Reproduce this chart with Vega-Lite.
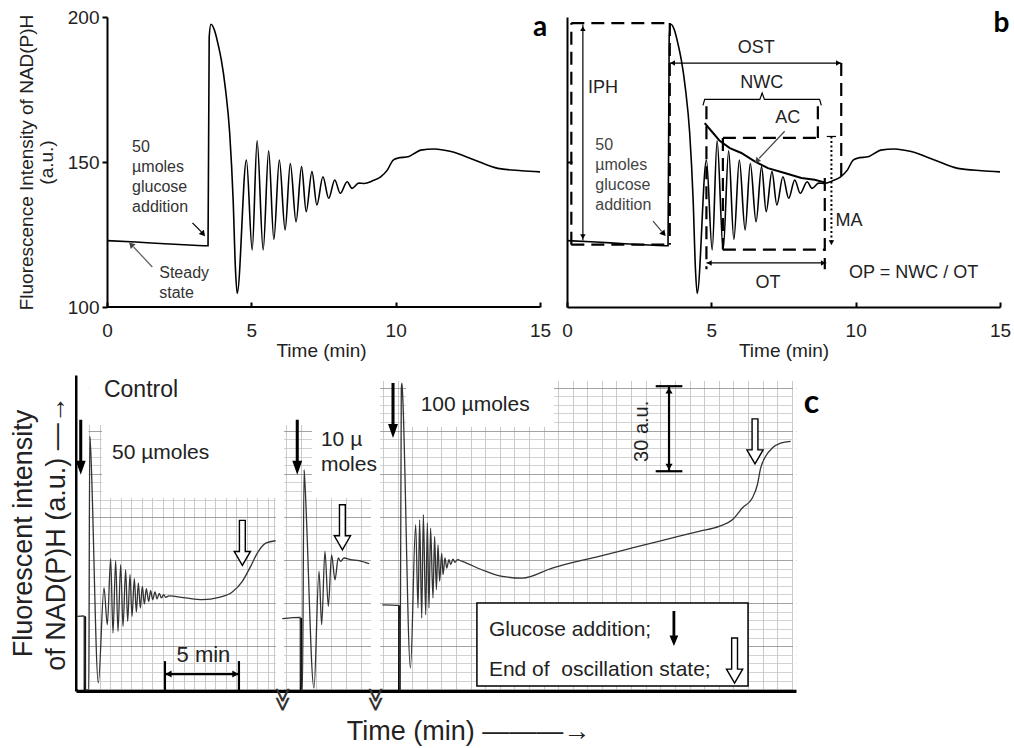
{
"$schema": "https://vega.github.io/schema/vega-lite/v6.json",
"padding": {"left": 9, "top": 8, "right": 5, "bottom": 5},
"config": {
  "view": {"stroke": null},
  "font": "Liberation Sans",
  "axis": {"labelFont": "Liberation Sans", "titleFont": "Liberation Sans", "labelColor": "#222", "titleColor": "#222", "titleFontWeight": "normal", "domainColor": "black", "tickColor": "black", "grid": false},
  "text": {"font": "Liberation Sans"}
},
"datasets": {
  "curve": [{"x":0,"y":122.9},{"x":1,"y":122.4},{"x":2,"y":121.8},{"x":3,"y":121.3},{"x":3.5,"y":121.1},{"x":3.54,"y":193},{"x":3.6,"y":197.5},{"x":3.72,"y":195.5},{"x":3.85,"y":190.5},{"x":3.96,"y":185.2},{"x":4.1,"y":175.5},{"x":4.25,"y":160},{"x":4.37,"y":136.9},{"x":4.45,"y":113},{"x":4.51,"y":104.7},{"x":4.83,"y":150.7},{"x":5.03,"y":119.7},{"x":5.2,"y":157.3},{"x":5.41,"y":119.7},{"x":5.6,"y":153.9},{"x":5.78,"y":123.3},{"x":5.97,"y":150.7},{"x":6.17,"y":126.6},{"x":6.35,"y":149.5},{"x":6.55,"y":129.4},{"x":6.74,"y":148.4},{"x":6.9,"y":132.9},{"x":7.1,"y":146.7},{"x":7.27,"y":135.2},{"x":7.48,"y":144.9},{"x":7.68,"y":137.5},{"x":7.89,"y":143.8},{"x":8.08,"y":139.2},{"x":8.32,"y":143.2},{"x":8.49,"y":140.9},{"x":8.72,"y":142.7},{"x":8.9,"y":142.6},{"x":9.2,"y":143.5},{"x":9.48,"y":144.9},{"x":9.71,"y":147.2},{"x":9.9,"y":150.5},{"x":10.06,"y":151.3},{"x":10.46,"y":151.9},{"x":10.7,"y":153.3},{"x":10.87,"y":154.1},{"x":11.34,"y":154.5},{"x":11.92,"y":153.6},{"x":12.73,"y":150.7},{"x":13.54,"y":147.8},{"x":14.36,"y":147.0},{"x":15,"y":146.6}],
  "cc": [
    {"s":"1","x":0.09,"y":26.0},{"s":"1","x":0.5,"y":26.1},{"s":"1","x":0.58,"y":25.9},{"s":"1","x":0.61,"y":0.4},{"s":"1","x":0.86,"y":0.4},{"s":"1","x":0.93,"y":88.6},{"s":"1","x":0.97,"y":86},{"s":"1","x":1.51,"y":2.8},{"s":"1","x":1.892,"y":35.85},{"s":"1","x":2.117,"y":23.08},{"s":"1","x":2.342,"y":46.06},{"s":"1","x":2.5,"y":20.19},{"s":"1","x":2.68,"y":45.36},{"s":"1","x":2.838,"y":20.77},{"s":"1","x":3.018,"y":43.97},{"s":"1","x":3.176,"y":22.5},{"s":"1","x":3.356,"y":42.23},{"s":"1","x":3.491,"y":24.24},{"s":"1","x":3.649,"y":40.49},{"s":"1","x":3.784,"y":25.98},{"s":"1","x":3.941,"y":39.1},{"s":"1","x":4.077,"y":27.5},{"s":"1","x":4.212,"y":37.6},{"s":"1","x":4.347,"y":28.9},{"s":"1","x":4.482,"y":36.4},{"s":"1","x":4.617,"y":30.3},{"s":"1","x":4.752,"y":35.6},{"s":"1","x":4.91,"y":31.2},{"s":"1","x":5.045,"y":34.9},{"s":"1","x":5.18,"y":31.8},{"s":"1","x":5.338,"y":34.5},{"s":"1","x":5.473,"y":32.1},{"s":"1","x":5.63,"y":34.0},{"s":"1","x":5.766,"y":32.4},{"s":"1","x":5.923,"y":33.5},{"s":"1","x":6.059,"y":32.6},{"s":"1","x":6.284,"y":33.1},{"s":"1","x":7.41,"y":32.4},{"s":"1","x":8.536,"y":31.8},{"s":"1","x":9.662,"y":32.6},{"s":"1","x":10.56,"y":34.5},{"s":"1","x":11.24,"y":38.2},{"s":"1","x":11.8,"y":43.4},{"s":"1","x":12.25,"y":48.0},{"s":"1","x":12.82,"y":51.5},{"s":"1","x":13.49,"y":52.3},
    {"s":"2","x":13.94,"y":25.2},{"s":"2","x":15.17,"y":25.6},{"s":"2","x":15.21,"y":0.4},{"s":"2","x":15.3,"y":0.4},{"s":"2","x":15.41,"y":77.0},{"s":"2","x":15.45,"y":74},{"s":"2","x":16.08,"y":1.0},{"s":"2","x":16.42,"y":41.7},{"s":"2","x":16.6,"y":23.1},{"s":"2","x":16.82,"y":48.6},{"s":"2","x":17.05,"y":29.5},{"s":"2","x":17.27,"y":47.4},{"s":"2","x":17.5,"y":38.7},{"s":"2","x":17.72,"y":46.3},{"s":"2","x":17.88,"y":45.1},{"s":"2","x":18.11,"y":46.3},{"s":"2","x":18.56,"y":45.7},{"s":"2","x":19.12,"y":45.4},{"s":"2","x":19.8,"y":44.3},
    {"s":"3","x":20.7,"y":30.0},{"s":"3","x":21.82,"y":29.8},{"s":"3","x":21.85,"y":0.4},{"s":"3","x":21.9,"y":0.4},{"s":"3","x":21.98,"y":105},{"s":"3","x":22.02,"y":107.2},{"s":"3","x":22.07,"y":103},{"s":"3","x":22.6,"y":8.0},{"s":"3","x":22.95,"y":57.9},{"s":"3","x":23.11,"y":28.9},{"s":"3","x":23.22,"y":59.6},{"s":"3","x":23.36,"y":25.4},{"s":"3","x":23.47,"y":61.4},{"s":"3","x":23.63,"y":26.6},{"s":"3","x":23.74,"y":58.5},{"s":"3","x":23.85,"y":28.9},{"s":"3","x":23.96,"y":56.7},{"s":"3","x":24.12,"y":32.4},{"s":"3","x":24.23,"y":53.8},{"s":"3","x":24.35,"y":35.3},{"s":"3","x":24.46,"y":50.9},{"s":"3","x":24.57,"y":38.2},{"s":"3","x":24.71,"y":48.0},{"s":"3","x":24.8,"y":40.5},{"s":"3","x":24.93,"y":46.3},{"s":"3","x":25.05,"y":42.8},{"s":"3","x":25.2,"y":45.7},{"s":"3","x":25.32,"y":44.0},{"s":"3","x":25.47,"y":45.9},{"s":"3","x":25.61,"y":44.8},{"s":"3","x":25.77,"y":45.7},{"s":"3","x":26.1,"y":45.1},{"s":"3","x":27.68,"y":41.7},{"s":"3","x":28.8,"y":39.9},{"s":"3","x":30.16,"y":39.3},{"s":"3","x":32.18,"y":42.8},{"s":"3","x":35.34,"y":46.9},{"s":"3","x":37.59,"y":49.8},{"s":"3","x":39.84,"y":52.7},{"s":"3","x":42.09,"y":55.6},{"s":"3","x":43.45,"y":57.3},{"s":"3","x":44.35,"y":59.6},{"s":"3","x":45.02,"y":63.7},{"s":"3","x":45.7,"y":67.2},{"s":"3","x":46.04,"y":71.8},{"s":"3","x":46.26,"y":77.6},{"s":"3","x":46.6,"y":81.7},{"s":"3","x":47.05,"y":84.6},{"s":"3","x":47.61,"y":86.3},{"s":"3","x":48.29,"y":86.9}
  ]
},
"columns": 1,
"spacing": 15,
"concat": [
 {
  "spacing": 10,
  "hconcat": [
   {
    "width": 464, "height": 290,
    "encoding": {
      "x": {"field": "x", "type": "quantitative", "scale": {"domain": [-1.074, 15], "nice": false, "zero": false},
            "axis": {"values": [0, 5, 10, 15], "title": "Time (min)", "titleX": 245, "titleFontSize": 19, "titlePadding": 1, "labelFontSize": 19, "tickSize": -5, "labelPadding": 19, "domain": false, "tickWidth": 2, "labelFlush": false}},
      "y": {"field": "y", "type": "quantitative", "scale": {"domain": [100, 200], "nice": false, "zero": false},
            "axis": {"values": [100, 150, 200], "offset": -31, "title": ["Fluorescence Intensity of NAD(P)H", "(a.u.)"], "titleFontSize": 19, "titleLineHeight": 20, "titlePadding": 11, "labelFontSize": 19, "tickSize": 5, "labelPadding": 3, "domainWidth": 2, "tickWidth": 2}}
    },
    "layer": [
      {"data": {"values": [{"x":0,"y":100,"x2":15,"y2":100}]}, "mark": {"type": "rule", "color": "black", "strokeWidth": 2}, "encoding": {"x2": {"field": "x2"}, "y2": {"field": "y2"}}},
      {"data": {"name": "curve"}, "mark": {"type": "line", "interpolate": "monotone", "color": "black", "strokeWidth": 1.6}},
      {"data": {"values": [{"x":0.87,"y":155.3,"t":"50"},{"x":0.87,"y":148.4,"t":"µmoles"},{"x":0.87,"y":141.5,"t":"glucose"},{"x":0.87,"y":134.6,"t":"addition"},{"x":1.81,"y":111.6,"t":"Steady"},{"x":1.81,"y":104.7,"t":"state"}]},
       "mark": {"type": "text", "align": "left", "baseline": "middle", "fontSize": 16, "color": "#333"}, "encoding": {"text": {"field": "t"}}},
      {"data": {"values": [{"x":2.96,"y":129.0,"x2":3.27,"y2":125.9}]}, "mark": {"type": "rule", "color": "black", "strokeWidth": 1.3}, "encoding": {"x2": {"field": "x2"}, "y2": {"field": "y2"}}},
      {"data": {"values": [{"x":3.31,"y":125.4}]}, "mark": {"type": "point", "shape": "triangle", "angle": 140, "filled": true, "color": "black", "opacity": 1, "size": 45}},
      {"data": {"values": [{"x":1.57,"y":113.8,"x2":0.92,"y2":120.7}]}, "mark": {"type": "rule", "color": "#666", "strokeWidth": 1.3}, "encoding": {"x2": {"field": "x2"}, "y2": {"field": "y2"}}},
      {"data": {"values": [{"x":0.86,"y":121.3}]}, "mark": {"type": "point", "shape": "triangle", "angle": 316, "filled": true, "color": "#444", "opacity": 1, "size": 45}},
      {"data": {"values": [{"x":15,"y":196.2,"t":"a"}]}, "mark": {"type": "text", "font": "Lato", "fontWeight": "bold", "fontSize": 28, "baseline": "middle", "color": "black"}, "encoding": {"text": {"field": "t"}}}
    ]
   },
   {
    "width": 433, "height": 290,
    "encoding": {
      "x": {"field": "x", "type": "quantitative", "scale": {"domain": [0, 15], "nice": false, "zero": false},
            "axis": {"values": [0, 5, 10, 15], "title": "Time (min)", "titleFontSize": 19, "titlePadding": 1, "labelFontSize": 19, "tickSize": -5, "labelPadding": 19, "domainWidth": 2, "tickWidth": 2, "labelFlush": false}},
      "y": {"field": "y", "type": "quantitative", "scale": {"domain": [100, 200], "nice": false, "zero": false},
            "axis": {"values": [150], "title": null, "labels": false, "tickSize": -5, "domainWidth": 2, "tickWidth": 2}}
    },
    "layer": [
      {"data": {"name": "curve"}, "mark": {"type": "line", "interpolate": "monotone", "color": "black", "strokeWidth": 1.6}},
      {"data": {"values": [{"x":0.15,"y":197.9,"x2":3.56,"y2":197.9},{"x":3.56,"y":197.9,"x2":3.56,"y2":121.5},{"x":0.15,"y":121.5,"x2":3.56,"y2":121.5},{"x":0.15,"y":121.5,"x2":0.15,"y2":197.9},{"x":9.5,"y":184.1,"x2":9.5,"y2":143.9},{"x":4.83,"y":169.2,"x2":4.83,"y2":113},{"x":8.69,"y":169.2,"x2":8.69,"y2":158.3},{"x":5.4,"y":158.3,"x2":8.69,"y2":158.3},{"x":5.4,"y":158.3,"x2":5.4,"y2":119.8},{"x":5.4,"y":119.8,"x2":8.93,"y2":119.8},{"x":8.93,"y":144.5,"x2":8.93,"y2":113}]},
       "mark": {"type": "rule", "color": "black", "strokeWidth": 2.2, "strokeDash": [13, 7]}, "encoding": {"x2": {"field": "x2"}, "y2": {"field": "y2"}}},
      {"data": {"values": [{"x":0.55,"y":197.4,"x2":0.55,"y2":122.9},{"x":3.56,"y":184.1,"x2":9.5,"y2":184.1},{"x":4.83,"y":115.2,"x2":8.98,"y2":115.2},{"x":9.0,"y":158.8,"x2":9.32,"y2":158.8}]},
       "mark": {"type": "rule", "color": "black", "strokeWidth": 1.2}, "encoding": {"x2": {"field": "x2"}, "y2": {"field": "y2"}}},
      {"data": {"values": [{"x":9.16,"y":158.8,"x2":9.16,"y2":121.5}]},
       "mark": {"type": "rule", "color": "black", "strokeWidth": 2, "strokeDash": [2, 2.5]}, "encoding": {"x2": {"field": "x2"}, "y2": {"field": "y2"}}},
      {"data": {"values": [{"x":4.77,"y":163.4},{"x":5.06,"y":160},{"x":5.29,"y":157.3},{"x":5.64,"y":154.8},{"x":6.04,"y":153.1},{"x":6.5,"y":150.2},{"x":6.96,"y":147.9},{"x":7.54,"y":146.2},{"x":8.12,"y":144.5},{"x":8.58,"y":143.9},{"x":8.98,"y":142.8}]},
       "mark": {"type": "line", "color": "black", "strokeWidth": 2}},
      {"data": {"values": [{"x":4.71,"y":169.5},{"x":4.77,"y":171.6},{"x":6.68,"y":171.6},{"x":6.76,"y":173.8},{"x":6.84,"y":171.6},{"x":8.75,"y":171.6},{"x":8.81,"y":169.5}]},
       "mark": {"type": "line", "color": "black", "strokeWidth": 1.2}},
      {"data": {"values": [{"x":0.55,"y":196.0,"d":"up"},{"x":0.55,"y":124.3,"d":"down"},{"x":3.66,"y":184.1,"d":"left"},{"x":9.4,"y":184.1,"d":"right"},{"x":4.93,"y":115.2,"d":"left"},{"x":8.88,"y":115.2,"d":"right"},{"x":9.16,"y":122.2,"d":"down"}]},
       "mark": {"type": "point", "filled": true, "color": "black", "opacity": 1, "size": 30},
       "encoding": {"shape": {"field": "d", "type": "nominal", "scale": {"domain": ["up", "down", "left", "right"], "range": ["triangle-up", "triangle-down", "triangle-left", "triangle-right"]}, "legend": null}}},
      {"data": {"values": [{"x":7.54,"y":160.6,"x2":6.66,"y2":151.3},{"x":2.98,"y":129.6,"x2":3.28,"y2":126.1}]},
       "mark": {"type": "rule", "color": "#444", "strokeWidth": 1.2}, "encoding": {"x2": {"field": "x2"}, "y2": {"field": "y2"}}},
      {"data": {"values": [{"x":6.6,"y":150.6}]}, "mark": {"type": "point", "shape": "triangle", "angle": 223, "filled": true, "color": "#444", "opacity": 1, "size": 40}},
      {"data": {"values": [{"x":3.33,"y":125.5}]}, "mark": {"type": "point", "shape": "triangle", "angle": 140, "filled": true, "color": "black", "opacity": 1, "size": 45}},
      {"data": {"values": [{"x":1.25,"y":175.5,"t":"IPH"},{"x":6.56,"y":189.3,"t":"OST"},{"x":6.75,"y":177.2,"t":"NWC"},{"x":7.65,"y":165.2,"t":"AC"},{"x":9.77,"y":129.5,"t":"MA"},{"x":6.96,"y":108.3,"t":"OT"},{"x":12.01,"y":111.7,"t":"OP = NWC / OT"}]},
       "mark": {"type": "text", "align": "center", "baseline": "middle", "fontSize": 18, "color": "#222"}, "encoding": {"text": {"field": "t"}}},
      {"data": {"values": [{"x":0.98,"y":156.0,"t":"50"},{"x":0.98,"y":149.1,"t":"µmoles"},{"x":0.98,"y":142.2,"t":"glucose"},{"x":0.98,"y":135.3,"t":"addition"}]},
       "mark": {"type": "text", "align": "left", "baseline": "middle", "fontSize": 16, "color": "#444"}, "encoding": {"text": {"field": "t"}}},
      {"data": {"values": [{"x":15.05,"y":197.5,"t":"b"}]}, "mark": {"type": "text", "font": "Lato", "fontWeight": "bold", "fontSize": 28, "baseline": "middle", "color": "black"}, "encoding": {"text": {"field": "t"}}}
    ]
   }
  ]
 },
 {
  "width": 720, "height": 316,
  "encoding": {
    "x": {"field": "x", "type": "quantitative", "scale": {"domain": [0, 48.65], "nice": false, "zero": false},
          "axis": {"title": "Time (min)   ———→", "titleFontSize": 27, "titleX": 392, "titlePadding": 27, "labels": false, "ticks": false, "domainWidth": 3, "grid": true, "gridColor": "#bdbdbd", "gridWidth": 0.8,
                   "values": [0.878,1.588,2.297,3.007,3.716,4.426,5.135,5.845,6.554,7.264,7.973,8.683,9.392,10.102,10.811,11.521,12.23,12.94,13.38,14.19,15.2,16.22,17.23,18.24,19.26,20.74,21.73,22.71,23.7,24.69,25.67,26.66,27.65,28.63,29.62,30.61,31.59,32.58,33.56,34.55,35.54,36.52,37.51,38.5,39.48,40.47,41.46,42.44,43.43,44.42,45.4,46.39,47.38,48.36]}},
    "y": {"field": "y", "type": "quantitative", "scale": {"domain": [0, 110], "nice": false, "zero": false},
          "axis": {"title": ["Fluorescent intensity", "of NAD(P)H (a.u.) —→"], "titleFontSize": 27, "titleLineHeight": 33, "titlePadding": 6, "labels": false, "ticks": false, "domainWidth": 3, "grid": true,
                   "gridColor": {"condition": {"test": "round((datum.value - 0.6) / 3) % 5 === 0", "value": "#8c8c8c"}, "value": "#c6c6c6"}, "gridWidth": 0.8,
                   "values": [0.6,3.6,6.6,9.6,12.6,15.6,18.6,21.6,24.6,27.6,30.6,33.6,36.6,39.6,42.6,45.6,48.6,51.6,54.6,57.6,60.6,63.6,66.6,69.6,72.6,75.6,78.6,81.6,84.6,87.6,90.6,93.6,96.6,99.6,102.6,105.6]}}
  },
  "layer": [
    {"data": {"values": [{"x":0.1,"x2":0.85,"y":0.6,"y2":110},{"x":0.85,"x2":1.76,"y":92.6,"y2":110},{"x":1.76,"x2":14.05,"y":67.2,"y2":110},{"x":13.51,"x2":14.05,"y":0.6,"y2":110},{"x":14.05,"x2":15.95,"y":92.6,"y2":110},{"x":15.95,"x2":20.47,"y":67.2,"y2":110},{"x":19.93,"x2":20.55,"y":0.6,"y2":110},{"x":20.47,"x2":48.65,"y":107.9,"y2":110},{"x":22.3,"x2":32.3,"y":92,"y2":110},{"x":48.45,"x2":48.65,"y":0.6,"y2":110}]},
     "mark": {"type": "rect", "color": "white", "opacity": 1}, "encoding": {"x2": {"field": "x2"}, "y2": {"field": "y2"}}},
    {"data": {"values": [{"x":27.09,"x2":45.41,"y":1.74,"y2":30.6}]},
     "mark": {"type": "rect", "fill": "white", "stroke": "black", "strokeWidth": 1.5, "opacity": 1}, "encoding": {"x2": {"field": "x2"}, "y2": {"field": "y2"}}},
    {"data": {"values": [{"x":0.6,"x2":0.6,"y":0,"y2":26},{"x":15.2,"x2":15.2,"y":0,"y2":25.4},{"x":21.84,"x2":21.84,"y":0,"y2":29.8}]},
     "mark": {"type": "rule", "color": "black", "strokeWidth": 2.5}, "encoding": {"x2": {"field": "x2"}, "y2": {"field": "y2"}}},
    {"data": {"name": "cc"}, "mark": {"type": "line", "interpolate": "monotone", "color": "#333", "strokeWidth": 1.3}, "encoding": {"detail": {"field": "s"}}},
    {"data": {"values": [{"x":0.32,"y":84.85},{"x":14.95,"y":84.85},{"x":21.42,"y":97.65}]},
     "mark": {"type": "point", "shape": "M-0.055,-1L0.055,-1L0.055,0.49L0.18,0.49L0,1L-0.18,0.49L-0.055,0.49Z", "size": 3025, "filled": true, "color": "black", "opacity": 1, "strokeWidth": 0}},
    {"data": {"values": [{"x":40.4,"y":21.75}]},
     "mark": {"type": "point", "shape": "M-0.08,-1L0.08,-1L0.08,0.4L0.25,0.4L0,1L-0.25,0.4L-0.08,0.4Z", "size": 1225, "filled": true, "color": "black", "opacity": 1, "strokeWidth": 0}},
    {"data": {"values": [{"x":11.24,"y":51.55},{"x":18.0,"y":57.0},{"x":45.88,"y":86.9},{"x":44.5,"y":10.6}]},
     "mark": {"type": "point", "shape": "M-0.13,-1L0.13,-1L0.13,0.38L0.36,0.38L0,1L-0.36,0.38L-0.13,0.38Z", "size": 2025, "filled": true, "fill": "white", "stroke": "black", "strokeWidth": 1.4, "opacity": 1}},
    {"data": {"values": [{"x":6.01,"y":5.9,"x2":11.01,"y2":5.9},{"x":6.01,"y":0.3,"x2":6.01,"y2":10.4},{"x":11.01,"y":0.3,"x2":11.01,"y2":10.4},{"x":40.07,"y":106.1,"x2":40.07,"y2":76.5},{"x":39.17,"y":106.1,"x2":40.97,"y2":106.1},{"x":39.17,"y":76.5,"x2":40.97,"y2":76.5}]},
     "mark": {"type": "rule", "color": "black", "strokeWidth": 2.2}, "encoding": {"x2": {"field": "x2"}, "y2": {"field": "y2"}}},
    {"data": {"values": [{"x":6.25,"y":5.9,"d":"left"},{"x":10.77,"y":5.9,"d":"right"},{"x":40.07,"y":104.6,"d":"up"},{"x":40.07,"y":78.0,"d":"down"}]},
     "mark": {"type": "point", "filled": true, "color": "black", "opacity": 1, "size": 50},
     "encoding": {"shape": {"field": "d", "type": "nominal", "scale": {"domain": ["up", "down", "left", "right"], "range": ["triangle-up", "triangle-down", "triangle-left", "triangle-right"]}, "legend": null}}},
    {"data": {"values": [{"x":1.89,"y":104.8,"t":"Control"}]},
     "mark": {"type": "text", "align": "left", "baseline": "middle", "fontSize": 23, "color": "#222"}, "encoding": {"text": {"field": "t"}}},
    {"data": {"values": [{"x":2.43,"y":82.8,"t":"50 µmoles"},{"x":16.55,"y":87.5,"t":"10 µ"},{"x":16.55,"y":78.8,"t":"moles"},{"x":23.29,"y":99.7,"t":"100 µmoles"}]},
     "mark": {"type": "text", "align": "left", "baseline": "middle", "fontSize": 21, "color": "#222"}, "encoding": {"text": {"field": "t"}}},
    {"data": {"values": [{"x":27.9,"y":21.3,"t":"Glucose addition;"},{"x":27.9,"y":7.4,"t":"End of\u00a0 oscillation state;"}]},
     "mark": {"type": "text", "align": "left", "baseline": "middle", "fontSize": 21, "color": "#222"}, "encoding": {"text": {"field": "t"}}},
    {"data": {"values": [{"x":8.61,"y":12.5,"t":"5 min"}]},
     "mark": {"type": "text", "align": "center", "baseline": "middle", "fontSize": 22, "color": "#222"}, "encoding": {"text": {"field": "t"}}},
    {"data": {"values": [{"x":38.26,"y":90.4,"t":"30 a.u."}]},
     "mark": {"type": "text", "align": "center", "baseline": "middle", "fontSize": 20, "angle": 270, "color": "#222"}, "encoding": {"text": {"field": "t"}}},
    {"data": {"values": [{"x":13.92,"y":-2.8,"t":"≫"},{"x":20.2,"y":-2.8,"t":"≫"}]},
     "mark": {"type": "text", "align": "center", "baseline": "middle", "fontSize": 24, "angle": 90, "color": "#333"}, "encoding": {"text": {"field": "t"}}},
    {"data": {"values": [{"x":49.7,"y":100.2,"t":"c"}]},
     "mark": {"type": "text", "align": "center", "baseline": "middle", "font": "Lato", "fontWeight": "bold", "fontSize": 32, "color": "black"}, "encoding": {"text": {"field": "t"}}}
  ]
 }
]
}
